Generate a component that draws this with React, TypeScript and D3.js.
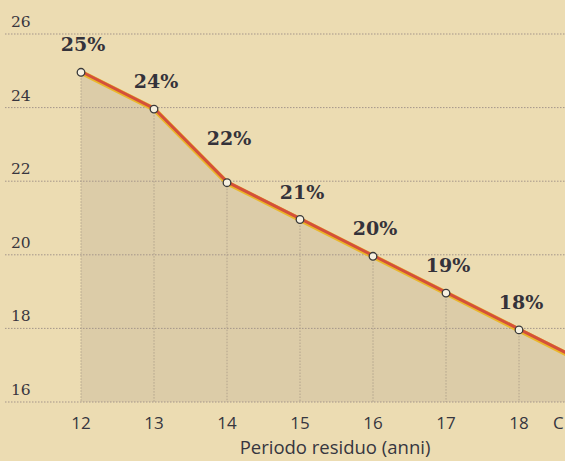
import React from "react";
import * as d3 from "d3";

const years = [12, 13, 14, 15, 16, 17, 18, 19];
const rates = [25, 24, 22, 21, 20, 19, 18, 17];
const pctLabels = ["25%", "24%", "22%", "21%", "20%", "19%", "18%", ""];
const yTicks = [16, 18, 20, 22, 24, 26];
const xTicks = [12, 13, 14, 15, 16, 17, 18];
const xTitle = "Periodo residuo (anni)";

const W = 565;
const H = 461;

export default function App() {
  const x = d3.scaleLinear().domain([12, 18]).range([81, 519]);
  const y = d3.scaleLinear().domain([16, 26]).range([402, 34]);
  const pts = years.map((yr, i) => [x(yr), y(rates[i]) + 1.5] as [number, number]);
  const line = d3.line<[number, number]>().x(d => d[0]).y(d => d[1]);
  const area = d3.area<[number, number]>().x(d => d[0]).y0(y(16)).y1(d => d[1]);

  return (
    <svg width={W} height={H} style={{ position: "absolute", left: 0, top: 0 }}>
      <defs>
        <clipPath id="c"><rect x={0} y={0} width={W} height={H} /></clipPath>
      </defs>
      <rect x={0} y={0} width={W} height={H} fill="#ecdcb2" />
      <g clipPath="url(#c)">
        <path d={area(pts) || ""} fill="#dccca8" />
        {yTicks.map(t => (
          <line key={t} x1={5} x2={W} y1={y(t)} y2={y(t)} stroke="#a4958a" strokeWidth={1} strokeDasharray="1.5,1.5" />
        ))}
        {years.map((yr, i) => (
          <line key={yr} x1={x(yr)} x2={x(yr)} y1={pts[i][1]} y2={y(16)} stroke="#a89a86" strokeWidth={0.8} strokeDasharray="1.5,1.5" />
        ))}
        <path d={line(pts) || ""} fill="none" stroke="#eab62a" strokeWidth={5} strokeLinejoin="round" />
        <path d={line(pts) || ""} fill="none" stroke="#d4503a" strokeWidth={3} strokeLinejoin="round" transform="translate(0,-0.8)" />
        {pts.slice(0, 7).map((p, i) => (
          <circle key={i} cx={p[0]} cy={p[1]} r={3.8} fill="#f6f0e0" stroke="#3a3a3a" strokeWidth={1.3} />
        ))}
        {pctLabels.map((lab, i) => {
          const drop = i > 0 ? rates[i - 1] - rates[i] : 1;
          const off = drop > 1 ? 38 : 21;
          return (
            <text key={i} x={pts[i][0] + 2} y={pts[i][1] - off} textAnchor="middle"
              fontFamily="'DejaVu Serif', Georgia, serif" fontWeight="bold" fontSize={19} fill="#34323a">
              {lab}
            </text>
          );
        })}
        {yTicks.map(t => (
          <text key={t} x={11} y={y(t) - 7} fontFamily="'DejaVu Serif', serif" fontSize={15.5} fill="#38363e">{t}</text>
        ))}
        {xTicks.map(t => (
          <text key={t} x={x(t)} y={429} textAnchor="middle" fontFamily="'Open Sans', sans-serif" fontSize={17} fill="#36363f">{t}</text>
        ))}
        <text x={553} y={429} fontFamily="'Open Sans', sans-serif" fontSize={17} fill="#36363f">C</text>
        <text x={335} y={454} textAnchor="middle" fontFamily="'Open Sans', sans-serif" fontSize={18.5} fill="#36363f">{xTitle}</text>
      </g>
    </svg>
  );
}
